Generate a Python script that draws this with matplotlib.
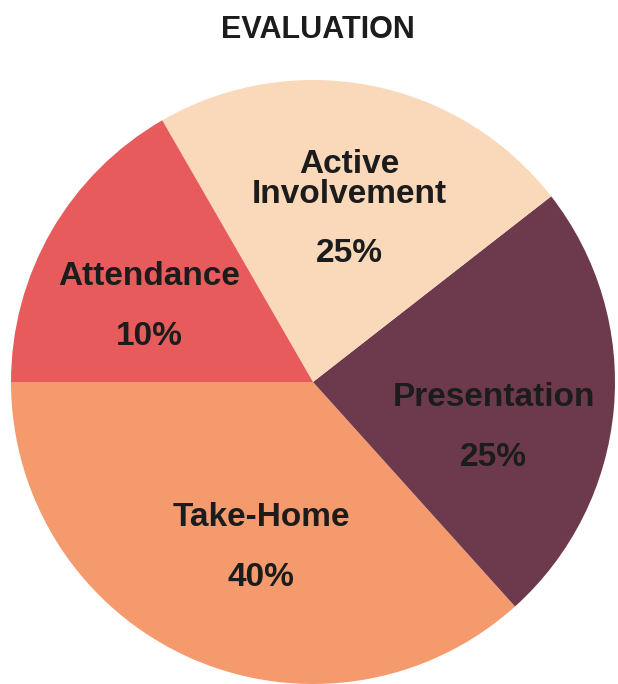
import numpy as np
import matplotlib
matplotlib.use("Agg")
from matplotlib import pyplot as plt

# slices, counter-clockwise starting from the left (180 deg)
names = ['Take-Home', 'Presentation', 'Active\nInvolvement', 'Attendance']
pct_labels = ['40%', '25%', '25%', '10%']
# wedge sizes as drawn in the picture (the drawn angles don't follow the printed %)
shares = [36.7, 23.9, 22.8, 16.7]
colors = ['#F59A6C', '#6C3A4C', '#FAD8BA', '#E85B5D']

# small hand tweaks of label placement (pixels): dx, dy, name-to-pct gap
shift = [(22, 0, 60), (0, -30, 60), (2, -12, 74), (-7, -15, 60)]

plt.rcParams['font.family'] = ['Liberation Sans', 'DejaVu Sans']

fig = plt.figure(figsize=(6.18, 6.84), dpi=100)
ax = fig.add_axes([0, 0, 1, 1])

cx, cy, R = 313, 302, 302
wedges, _ = ax.pie(shares, colors=colors, startangle=180, counterclock=True,
                   radius=R, center=(cx, cy), frame=True,
                   wedgeprops=dict(linewidth=0))
ax.set_xlim(0, 618)
ax.set_ylim(0, 684)
ax.set_aspect('equal')
ax.axis('off')

for w, name, pct, (dx, dy, gap) in zip(wedges, names, pct_labels, shift):
    mid = np.deg2rad((w.theta1 + w.theta2) / 2)
    x = cx + 0.6 * R * np.cos(mid) + dx
    y = cy + 0.6 * R * np.sin(mid) + dy
    ax.text(x, y + gap / 2, name, ha='center', va='center', fontsize=24,
            fontweight='bold', color='#1c1c1c', linespacing=0.95)
    ax.text(x, y - gap / 2, pct, ha='center', va='center', fontsize=24,
            fontweight='bold', color='#1c1c1c')

fig.text(318 / 618, 1 - 30 / 684, 'EVALUATION', ha='center', va='center',
         fontsize=22, fontweight='bold', color='#1c1c1c')

plt.savefig('out.png', dpi=100)
